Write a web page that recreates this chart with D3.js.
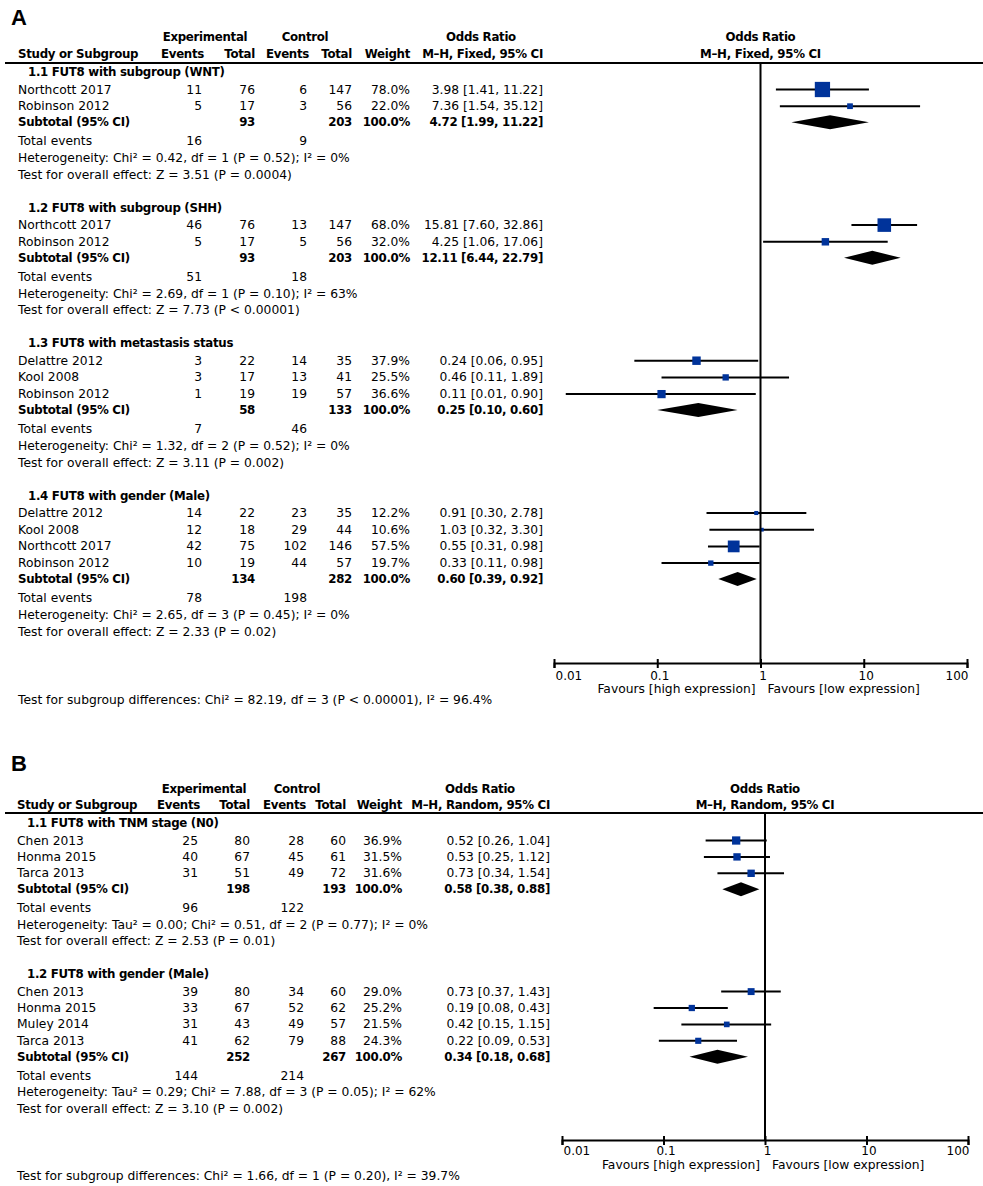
<!DOCTYPE html>
<html><head><meta charset="utf-8">
<script src="https://cdn.jsdelivr.net/npm/d3@7"></script>
<style>
body{margin:0;background:#fff}
svg{display:block}
text{font-family:"DejaVu Sans",sans-serif;font-size:12.3px;fill:#000}
</style>
</head><body>
<svg id="c" width="983" height="1186"></svg>
<script>
// ---------- Panel A data ----------
const aSubgroups = ["1.1 FUT8 with subgroup (WNT)","1.2 FUT8 with subgroup (SHH)","1.3 FUT8 with metastasis status","1.4 FUT8 with gender (Male)"];
const aGroup     = [0,0,1,1,2,2,2,3,3,3,3];
const aStudy     = ["Northcott 2017","Robinson 2012","Northcott 2017","Robinson 2012","Delattre 2012","Kool 2008","Robinson 2012","Delattre 2012","Kool 2008","Northcott 2017","Robinson 2012"];
const aExpEvents = [11,5,46,5,3,3,1,14,12,42,10];
const aExpTotal  = [76,17,76,17,22,17,19,22,18,75,19];
const aCtlEvents = [6,3,13,5,14,13,19,23,29,102,44];
const aCtlTotal  = [147,56,147,56,35,41,57,35,44,146,57];
const aWeight    = [78.0,22.0,68.0,32.0,37.9,25.5,36.6,12.2,10.6,57.5,19.7];
const aOR        = [3.98,7.36,15.81,4.25,0.24,0.46,0.11,0.91,1.03,0.55,0.33];
const aLo        = [1.41,1.54,7.60,1.06,0.06,0.11,0.013,0.30,0.32,0.31,0.11];
const aHi        = [11.22,35.12,32.86,17.06,0.95,1.89,0.90,2.78,3.30,0.98,0.98];
const aSubExpTotal = [93,93,58,134];
const aSubCtlTotal = [203,203,133,282];
const aSubOR       = [4.72,12.11,0.25,0.60];
const aSubLo       = [1.99,6.44,0.10,0.39];
const aSubHi       = [11.22,22.79,0.60,0.92];
const aTotExpEvents = [16,51,7,78];
const aTotCtlEvents = [9,18,46,198];
const aHet = ["Heterogeneity: Chi² = 0.42, df = 1 (P = 0.52); I² = 0%",
              "Heterogeneity: Chi² = 2.69, df = 1 (P = 0.10); I² = 63%",
              "Heterogeneity: Chi² = 1.32, df = 2 (P = 0.52); I² = 0%",
              "Heterogeneity: Chi² = 2.65, df = 3 (P = 0.45); I² = 0%"];
const aOverall = ["Test for overall effect: Z = 3.51 (P = 0.0004)",
                  "Test for overall effect: Z = 7.73 (P < 0.00001)",
                  "Test for overall effect: Z = 3.11 (P = 0.002)",
                  "Test for overall effect: Z = 2.33 (P = 0.02)"];
const aDiff = "Test for subgroup differences: Chi² = 82.19, df = 3 (P < 0.00001), I² = 96.4%";
const aMethod = "M–H, Fixed, 95% CI";

// ---------- Panel B data ----------
const bSubgroups = ["1.1 FUT8 with TNM stage (N0)","1.2 FUT8 with gender (Male)"];
const bGroup     = [0,0,0,1,1,1,1];
const bStudy     = ["Chen 2013","Honma 2015","Tarca 2013","Chen 2013","Honma 2015","Muley 2014","Tarca 2013"];
const bExpEvents = [25,40,31,39,33,31,41];
const bExpTotal  = [80,67,51,80,67,43,62];
const bCtlEvents = [28,45,49,34,52,49,79];
const bCtlTotal  = [60,61,72,60,62,57,88];
const bWeight    = [36.9,31.5,31.6,29.0,25.2,21.5,24.3];
const bOR        = [0.52,0.53,0.73,0.73,0.19,0.42,0.22];
const bLo        = [0.26,0.25,0.34,0.37,0.08,0.15,0.09];
const bHi        = [1.04,1.12,1.54,1.43,0.43,1.15,0.53];
const bSubExpTotal = [198,252];
const bSubCtlTotal = [193,267];
const bSubOR       = [0.58,0.34];
const bSubLo       = [0.38,0.18];
const bSubHi       = [0.88,0.68];
const bTotExpEvents = [96,144];
const bTotCtlEvents = [122,214];
const bHet = ["Heterogeneity: Tau² = 0.00; Chi² = 0.51, df = 2 (P = 0.77); I² = 0%",
              "Heterogeneity: Tau² = 0.29; Chi² = 7.88, df = 3 (P = 0.05); I² = 62%"];
const bOverall = ["Test for overall effect: Z = 2.53 (P = 0.01)",
                  "Test for overall effect: Z = 3.10 (P = 0.002)"];
const bDiff = "Test for subgroup differences: Chi² = 1.66, df = 1 (P = 0.20), I² = 39.7%";
const bMethod = "M–H, Random, 95% CI";

// shared
const axisTicks = [0.01,0.1,1,10,100];
const favLeft = "Favours [high expression]";
const favRight = "Favours [low expression]";

const svg = d3.select("#c");
const f2 = d => d.toFixed(2);
const orTxt = (o,l,h) => `${f2(o)} [${f2(l)}, ${f2(h)}]`;
const sizeScale = d3.scaleLinear().domain([0,100]).range([2,19]);
const BLUE = "#00339a";
const BOLD_SIZE = 11.8;

function drawPanel(D, L) {
  const g = svg.append("g");
  const x = d3.scaleLog().domain([0.01,100]).range([L.x0, L.x1]);
  const C = L.cols;
  const txt = (t, xx, yy, anchor, bold) => g.append("text")
      .attr("x", xx).attr("y", yy).attr("dominant-baseline","central")
      .attr("text-anchor", anchor || "start")
      .style("font-weight", bold ? "bold" : "normal")
      .style("font-size", bold ? BOLD_SIZE + "px" : null)
      .style("letter-spacing", bold ? "-0.3px" : null)
      .text(t);

  // panel letter
  g.append("text").attr("x", 11).attr("y", L.letterY).attr("dominant-baseline","central")
    .style("font-family","'Liberation Sans',Arial,sans-serif").style("font-weight","bold")
    .style("font-size","22px").text(L.letter);

  // headers
  txt("Experimental", L.expC, L.h1, "middle", true);
  txt("Control", L.ctlC, L.h1, "middle", true);
  txt("Odds Ratio", L.orC, L.h1, "middle", true);
  txt("Odds Ratio", x(1), L.h1, "middle", true);
  txt("Study or Subgroup", C.label, L.h2, "start", true);
  txt("Events", C.ee + 2, L.h2, "end", true);
  txt("Total", C.et, L.h2, "end", true);
  txt("Events", C.ce + 2, L.h2, "end", true);
  txt("Total", C.ct, L.h2, "end", true);
  txt("Weight", C.w, L.h2, "end", true);
  txt(D.method, C.or, L.h2, "end", true);
  txt(D.method, x(1), L.h2, "middle", true);

  g.append("line").attr("x1", 5).attr("x2", 983).attr("y1", L.ruleY).attr("y2", L.ruleY)
    .attr("stroke","#000").attr("stroke-width",2);

  // rows
  let y = L.startY;
  const studyIdx = d3.range(D.study.length);
  D.subgroups.forEach((sg, gi) => {
    txt(sg, C.hdr, y, "start", true);
    y += 17.5;
    const idx = studyIdx.filter(i => D.group[i] === gi);
    let last = y;
    idx.forEach(i => {
      txt(D.study[i], C.label, y);
      txt(D.expEvents[i], C.ee, y, "end");
      txt(D.expTotal[i], C.et, y, "end");
      txt(D.ctlEvents[i], C.ce, y, "end");
      txt(D.ctlTotal[i], C.ct, y, "end");
      txt(D.weight[i].toFixed(1) + "%", C.w, y, "end");
      txt(orTxt(D.or[i], D.lo[i], D.hi[i]), C.or, y, "end");
      g.append("line").attr("x1", x(D.lo[i])).attr("x2", x(D.hi[i]))
        .attr("y1", y).attr("y2", y).attr("stroke","#000").attr("stroke-width",2);
      const s = sizeScale(D.weight[i]);
      g.append("rect").attr("x", x(D.or[i]) - s/2).attr("y", y - s/2)
        .attr("width", s).attr("height", s).attr("fill", BLUE);
      last = y;
      y += L.unit;
    });
    // subtotal
    const ys = last + 16;
    txt("Subtotal (95% CI)", C.label, ys, "start", true);
    txt(D.subExpTotal[gi], C.et, ys, "end", true);
    txt(D.subCtlTotal[gi], C.ct, ys, "end", true);
    txt("100.0%", C.w, ys, "end", true);
    txt(orTxt(D.subOR[gi], D.subLo[gi], D.subHi[gi]), C.or, ys, "end", true);
    const xl = x(D.subLo[gi]), xm = x(D.subOR[gi]), xh = x(D.subHi[gi]);
    g.append("path").attr("d", `M${xl},${ys}L${xm},${ys-7}L${xh},${ys}L${xm},${ys+7}Z`).attr("fill","#000");
    const yt = ys + 19;
    txt("Total events", C.label, yt);
    txt(D.totExpEvents[gi], C.ee, yt, "end");
    txt(D.totCtlEvents[gi], C.ce, yt, "end");
    txt(D.het[gi], C.label, yt + L.unit);
    txt(D.overall[gi], C.label, yt + 2 * L.unit);
    y = yt + 2 * L.unit + 33;
  });

  // vertical line at 1
  g.append("line").attr("x1", x(1)).attr("x2", x(1)).attr("y1", L.ruleY).attr("y2", L.axisY)
    .attr("stroke","#000").attr("stroke-width",2);

  // axis
  const ax = g.append("g").attr("transform", `translate(0,${L.axisY})`)
    .call(d3.axisBottom(x).tickValues(axisTicks).tickFormat(d => String(d)).tickSizeOuter(0).tickSize(5));
  ax.select(".domain").attr("stroke","#000").attr("stroke-width",2);
  ax.selectAll(".tick line").attr("y1",-4).attr("y2",5).attr("stroke","#000").attr("stroke-width",2);
  const last = axisTicks.length - 1;
  ax.selectAll(".tick text").attr("y", L.tickDy).attr("dy", null).attr("dominant-baseline","central")
    .attr("text-anchor", (d, i) => i === 0 ? "start" : (i === last ? "end" : "middle"))
    .attr("x", (d, i) => i === 0 ? 1 : (i === last ? 1 : 2))
    .style("font-family","'DejaVu Sans',sans-serif").style("font-size","12px");
  txt(favLeft, x(1) - 5, L.favY, "end");
  txt(favRight, x(1) + 7, L.favY, "start");

  txt(D.diff, C.label, L.diffY);
}

drawPanel({
  subgroups: aSubgroups, group: aGroup, study: aStudy, expEvents: aExpEvents, expTotal: aExpTotal,
  ctlEvents: aCtlEvents, ctlTotal: aCtlTotal, weight: aWeight, or: aOR, lo: aLo, hi: aHi,
  subExpTotal: aSubExpTotal, subCtlTotal: aSubCtlTotal, subOR: aSubOR, subLo: aSubLo, subHi: aSubHi,
  totExpEvents: aTotExpEvents, totCtlEvents: aTotCtlEvents, het: aHet, overall: aOverall, diff: aDiff, method: aMethod
}, {
  letter: "A", letterY: 17, h1: 37, h2: 54, ruleY: 63, startY: 72, unit: 16.7,
  axisY: 663, tickDy: 13, favY: 689, diffY: 700, x0: 554, x1: 967,
  cols: {label: 18, hdr: 28, ee: 202, et: 255, ce: 307, ct: 352, w: 410, or: 543},
  expC: 205, ctlC: 305, orC: 481
});

drawPanel({
  subgroups: bSubgroups, group: bGroup, study: bStudy, expEvents: bExpEvents, expTotal: bExpTotal,
  ctlEvents: bCtlEvents, ctlTotal: bCtlTotal, weight: bWeight, or: bOR, lo: bLo, hi: bHi,
  subExpTotal: bSubExpTotal, subCtlTotal: bSubCtlTotal, subOR: bSubOR, subLo: bSubLo, subHi: bSubHi,
  totExpEvents: bTotExpEvents, totCtlEvents: bTotCtlEvents, het: bHet, overall: bOverall, diff: bDiff, method: bMethod
}, {
  letter: "B", letterY: 763, h1: 789, h2: 805, ruleY: 813, startY: 823, unit: 16.4,
  axisY: 1140, tickDy: 11, favY: 1165, diffY: 1176, x0: 562, x1: 968,
  cols: {label: 17, hdr: 27, ee: 198, et: 250, ce: 304, ct: 346, w: 402, or: 550},
  expC: 204, ctlC: 297, orC: 480
});
</script>
</body></html>
